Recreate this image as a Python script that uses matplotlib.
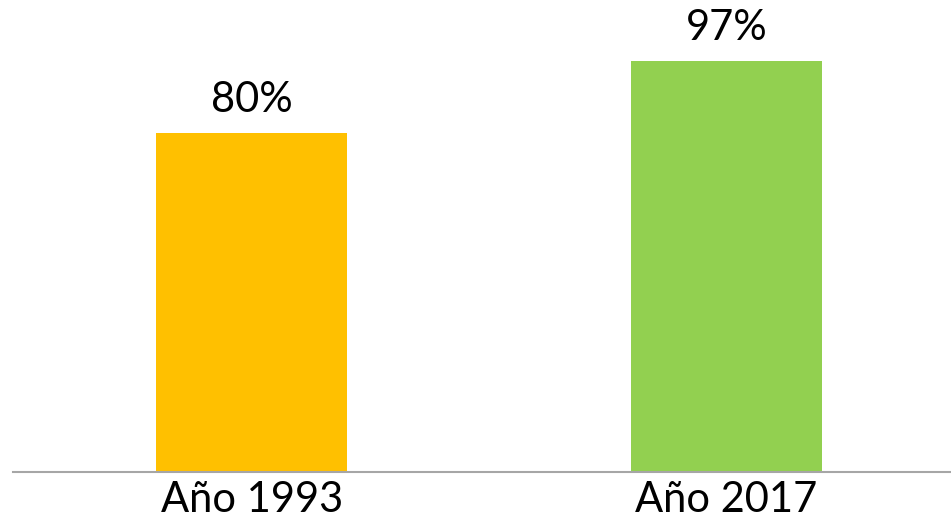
import matplotlib
matplotlib.use('Agg')
import matplotlib.pyplot as plt

# Data
categories = ['Año 1993', 'Año 2017']
values = [80, 97]
labels = ['80%', '97%']
colors = ['#FFC000', '#92D050']

plt.rcParams['font.family'] = ['Lato', 'DejaVu Sans']

fig = plt.figure(figsize=(9.51, 5.19), dpi=100)
ax = fig.add_axes([13 / 951, 47.5 / 519, 1 - 13 / 951, 471.5 / 519])

x = range(len(categories))
ax.bar(x, values, width=0.402, color=colors)

for xi, v, lab in zip(x, values, labels):
    ax.text(xi, v + 3.3, lab, ha='center', va='bottom', fontsize=30)

ax.set_xlim(-0.503, 1.473)
ax.set_ylim(0, 111.5)
ax.set_xticks(list(x))
ax.set_xticklabels(categories, fontsize=30)
ax.tick_params(axis='x', length=0, pad=7)
ax.set_yticks([])

for side in ['top', 'right', 'left']:
    ax.spines[side].set_visible(False)
ax.spines['bottom'].set_color('#A6A6A6')
ax.spines['bottom'].set_linewidth(1.5)

fig.savefig('out.png', dpi=100)
